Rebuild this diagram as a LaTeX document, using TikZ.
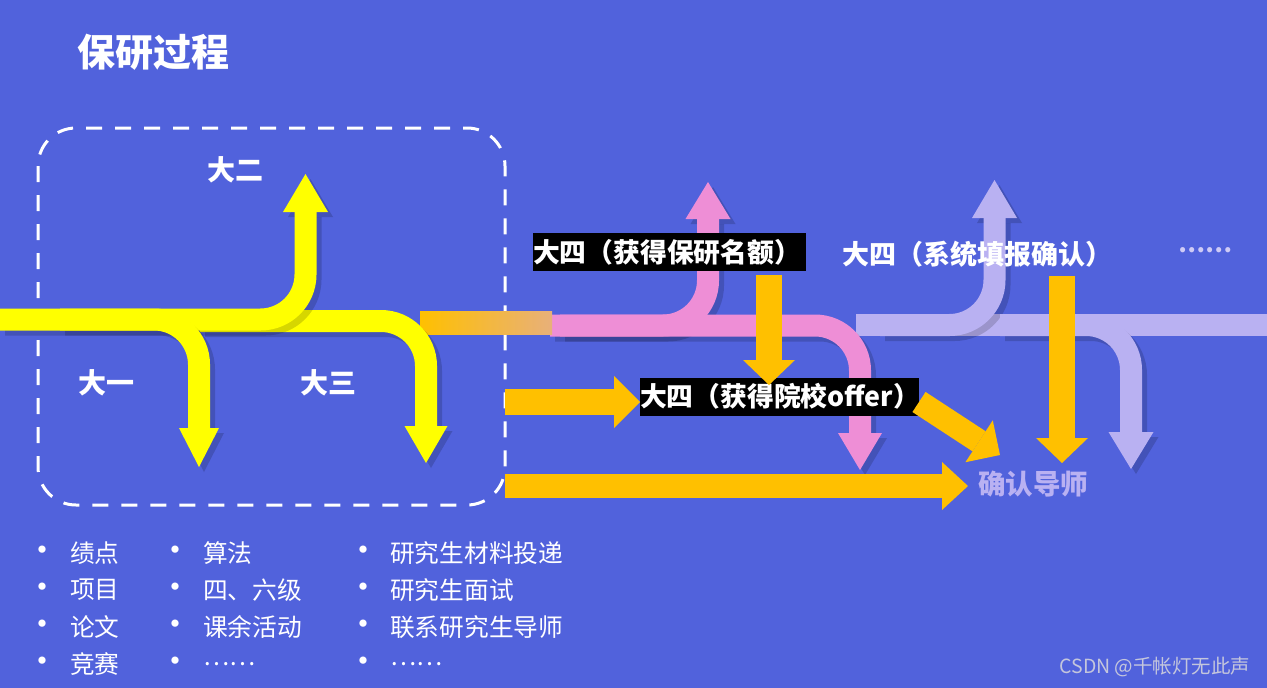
\documentclass[tikz,border=0pt]{standalone}
\usepackage{fontspec}
\setmainfont{Noto Sans CJK SC}
\usetikzlibrary{arrows.meta}
\definecolor{bg}{HTML}{5162DC}
\definecolor{yel}{HTML}{FFFF00}
\definecolor{org}{HTML}{FFC000}
\definecolor{pnk}{HTML}{EE8ED6}
\definecolor{lav}{HTML}{B9B1F2}
\definecolor{tanc}{HTML}{E8B07A}
\definecolor{wm}{HTML}{C4C6DC}
\definecolor{dotc}{HTML}{CFCBF6}
\begin{document}
\begin{tikzpicture}[x=1pt,y=-1pt,
  band/.style n args={4}{draw=#1, line width=#2, rounded corners=45pt, -{Triangle[width=#3,length=#4,line width=0pt]}},
  sband/.style n args={4}{draw=black, opacity=0.16, line width=#2, rounded corners=45pt, -{Triangle[width=#3,length=#4,line width=0pt]}, transform canvas={shift={(5pt,-5pt)}}},
  ptr/.style n args={4}{draw=#1, line width=#2, -{Triangle[width=#3,length=#4,line width=0pt]}},
  lbl/.style={text=white, font=\fontsize{27}{32}\selectfont\bfseries, inner sep=0pt},
  ylbl/.style={text=white, font=\fontsize{28}{32}\selectfont\bfseries, inner sep=0pt},
  qbox/.style={fill=black, text=white, font=\fontsize{26.8}{32}\selectfont\bfseries, inner sep=0pt, minimum height=38pt, align=left},
  bul/.style={text=white, font=\fontsize{26}{28}\selectfont\bfseries, inner sep=0pt},
  itm/.style={text=white, font=\fontsize{24.7}{28}\selectfont, inner sep=0pt, anchor=west},
  frame/.style={draw=white, line width=3pt, dash pattern=on 16pt off 13pt, rounded corners=38pt}
]
\fill[bg] (0,0) rectangle (1267,688);
\useasboundingbox (0,0) rectangle (1267,688);

% title
\node[text=white, font=\fontsize{38}{42}\selectfont\bfseries, inner sep=0pt] (title) at (153,52) {保研过程};

% dashed frame
\draw[frame] (38,128) rectangle (505,505);

% coordinates
\coordinate (yA0) at (0,319.5);   \coordinate (yA1) at (199,467);
\coordinate (yB0) at (60,319.5);  \coordinate (yB1) at (305.5,174);
\coordinate (yC0) at (200,321);   \coordinate (yC1) at (426,463);
\coordinate (pD0) at (550,325.5); \coordinate (pD1) at (860,470);
\coordinate (pU0) at (560,325.5); \coordinate (pU1) at (708,182);
\coordinate (lH0) at (856,325);   \coordinate (lH1) at (1267,325);
\coordinate (lU0) at (880,325);   \coordinate (lU1) at (994.5,180);
\coordinate (lD0) at (1000,325);  \coordinate (lD1) at (1131,469);

% lavender
\draw[lav, line width=22pt] (lH0) -- (lH1);
\draw[sband={lav}{22pt}{45pt}{38pt}] (lU0) -| (lU1);
\draw[band={lav}{22pt}{45pt}{38pt}] (lU0) -| (lU1);
\draw[sband={lav}{22pt}{45pt}{37pt}] (lD0) -| (lD1);
\draw[band={lav}{22pt}{45pt}{37pt}] (lD0) -| (lD1);

% pink
\draw[sband={pnk}{22pt}{45pt}{37pt}] (pU0) -| (pU1);
\draw[band={pnk}{22pt}{45pt}{37pt}] (pU0) -| (pU1);
\draw[sband={pnk}{22pt}{44pt}{37pt}] (pD0) -| (pD1);
\draw[band={pnk}{22pt}{44pt}{37pt}] (pD0) -| (pD1);

% gradient band
\shade[left color=org, right color=tanc] (420,311.5) rectangle (552,334);

% yellow
\draw[sband={yel}{22pt}{43pt}{37pt}] (yC0) -| (yC1);
\draw[band={yel}{22pt}{43pt}{37pt}] (yC0) -| (yC1);
\draw[sband={yel}{22pt}{45pt}{38pt}] (yB0) -| (yB1);
\draw[band={yel}{22pt}{45pt}{38pt}] (yB0) -| (yB1);
\draw[sband={yel}{22pt}{40pt}{39pt}] (yA0) -| (yA1);
\draw[band={yel}{22pt}{40pt}{39pt}] (yA0) -| (yA1);

% labels
\node[ylbl] (d2) at (235,170) {大二};
\node[ylbl] (d1) at (106,383) {大一};
\node[ylbl] (d3) at (328,383) {大三};
\node[qbox, text width=273pt] (q1) at (669.5,252) {大四（获得保研名额）};
\node[qbox, text width=279pt] (q2) at (779.5,396.5) {大四（获得院校offer）};
\node[lbl] (q3) at (977,254) {大四（系统填报确认）};
\node[text=dotc, font=\fontsize{24}{28}\selectfont\bfseries, inner sep=0pt] (dots) at (1205,250) {……};
\node[text=lav, font=\fontsize{27.5}{32}\selectfont\bfseries, inner sep=0pt] (conf) at (1033,484) {确认导师};

% orange arrows
\coordinate (o1a) at (769,275);  \coordinate (o1b) at (769,385);
\coordinate (o2a) at (505,402);  \coordinate (o2b) at (640,402);
\coordinate (o3a) at (505,486);  \coordinate (o3b) at (968,486);
\coordinate (o4a) at (919,402);  \coordinate (o4b) at (1000,455);
\coordinate (o5a) at (1062,276); \coordinate (o5b) at (1062,463);
\draw[ptr={org}{26pt}{52pt}{25pt}] (o1a) -- (o1b);
\draw[ptr={org}{26pt}{52pt}{26pt}] (o2a) -- (o2b);
\draw[ptr={org}{24pt}{48pt}{26pt}] (o3a) -- (o3b);
\draw[ptr={org}{24pt}{50pt}{25pt}] (o4a) -- (o4b);
\draw[ptr={org}{26pt}{52pt}{25pt}] (o5a) -- (o5b);

% bullet lists
\foreach \bx/\tx/\lst [count=\c] in {42/70/{绩点,项目,论文,竞赛}, 175/203/{算法,四、六级,课余活动,……}, 363/390/{研究生材料投递,研究生面试,联系研究生导师,……}}{
  \foreach \t [count=\r] in \lst {
    \node[bul] (b\c\r) at (\bx,553+37*\r-37) {•};
    \node[itm] (t\c\r) at (\tx,553+37*\r-37) {\t};
  }
}

% watermark
\node[text=wm, font=\fontsize{19.5}{22}\selectfont, inner sep=0pt] (wmk) at (1155,667) {CSDN @千帐灯无此声};
\end{tikzpicture}
\end{document}
